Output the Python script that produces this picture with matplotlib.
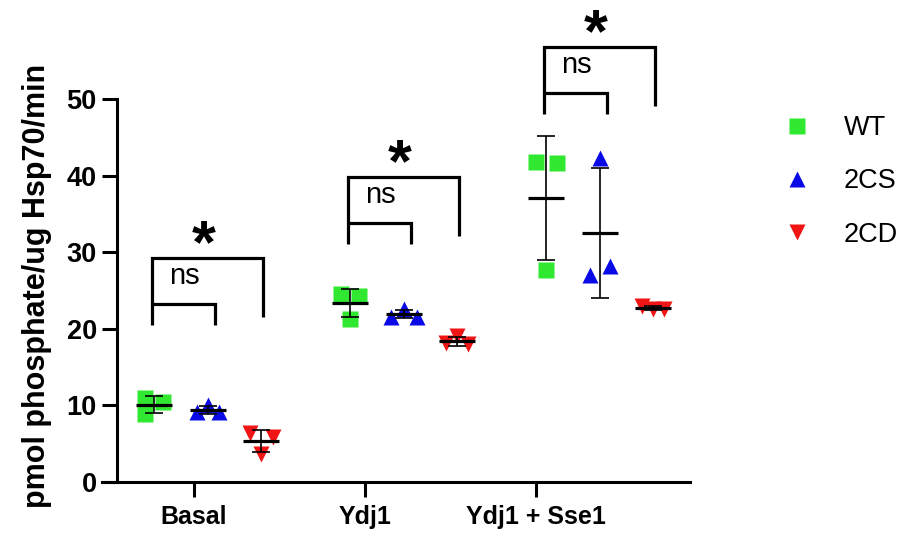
import numpy as np
import matplotlib.pyplot as plt

plt.rcParams['font.family'] = ['Liberation Sans', 'DejaVu Sans']

# Données (pmol phosphate / ug Hsp70 / min), trois répétitions par condition
conditions = ['Basal', 'Ydj1', 'Ydj1 + Sse1']
strains = ['WT', '2CS', '2CD']
wt_vals = [[11.0, 8.9, 10.4], [24.6, 24.3, 21.3], [41.8, 41.6, 27.7]]
cs_vals = [[9.1, 10.0, 9.1], [21.6, 22.6, 21.6], [27.0, 42.3, 28.2]]
cd_vals = [[6.4, 3.7, 5.9], [18.1, 19.0, 18.0], [23.0, 22.6, 22.6]]
series = [wt_vals, cs_vals, cd_vals]

# annotations : hauteur du grand crochet par condition
bracket_tops = [29.2, 39.8, 56.8]
outer_labels = ['*', '*', '*']
inner_labels = ['ns', 'ns', 'ns']

# style
colors = ['#2fe82f', '#0a0ae6', '#f01414']
markers = ['s', '^', 'v']
msizes = [11.5, 11, 11]
strain_offset = [-0.275, 0.0, 0.272]
tick_pos = [-0.071, 0.801, 1.673]
# petit décalage horizontal des points (en unités d'axe)
jitter = [
    [[-0.046, -0.046, 0.046], [-0.046, 0.046, 0.0], [-0.05, 0.056, 0.0]],
    [[-0.056, 0.0, 0.056], [-0.066, 0.0, 0.066], [-0.05, 0.0, 0.05]],
    [[-0.056, 0.0, 0.06], [-0.056, 0.0, 0.056], [-0.056, 0.0, 0.056]],
]

W, H = 905, 539
fig = plt.figure(figsize=(W / 100, H / 100), dpi=100)
ax = fig.add_axes([102 / W, (H - 482) / H, (690 - 102) / W, (482 - 99) / H])

for s, vals in enumerate(series):
    for g, reps in enumerate(vals):
        xc = g + strain_offset[s]
        xs = [xc + j for j in jitter[s][g]]
        ax.plot(xs, reps, linestyle='none', marker=markers[s], ms=msizes[s],
                color=colors[s], mec='none', zorder=2, clip_on=False)
        m = np.mean(reps)
        sd = np.std(reps, ddof=1)
        ax.hlines(m, xc - 0.092, xc + 0.092, color='black', lw=2.3, zorder=4)
        ax.vlines(xc, m - sd, m + sd, color='black', lw=1.2, zorder=4)
        ax.hlines([m - sd, m + sd], xc - 0.046, xc + 0.046, color='black', lw=1.2, zorder=4)

# crochets de significativité
for g, top in enumerate(bracket_tops):
    xl = g - 0.285
    xi = g + 0.035
    xr = g + 0.28
    inner_top = top - 6.0
    inner_bot = inner_top - 2.7
    kw = dict(color='black', lw=2.3, clip_on=False, solid_capstyle='butt',
              solid_joinstyle='miter')
    ax.plot([xl, xl, xr, xr], [inner_bot, top, top, top - 7.7], **kw)
    ax.plot([xl, xi, xi], [inner_top, inner_top, inner_bot], **kw)
    ax.annotate(outer_labels[g], xy=(g - 0.02, top + 3.3), xytext=(0, -21),
                textcoords='offset points', ha='center', va='baseline',
                fontsize=44, fontweight='bold', annotation_clip=False)
    ax.annotate(inner_labels[g], xy=(xl + 0.163, top - 2.3), xytext=(0, -5.8),
                textcoords='offset points', ha='center', va='baseline',
                fontsize=21, annotation_clip=False)

ax.set_xlim(-0.54, 2.46)
ax.set_ylim(0, 50)
ax.set_yticks([0, 10, 20, 30, 40, 50])
ax.set_xticks(tick_pos)
ax.set_xticklabels(conditions)

for side in ['top', 'right']:
    ax.spines[side].set_visible(False)
ax.spines['left'].set_position(('data', -0.464))
ax.spines['left'].set_linewidth(2.2)
ax.spines['bottom'].set_linewidth(2.2)
ax.tick_params(axis='both', width=2.2, length=10.5, labelsize=18)
ax.tick_params(axis='y', pad=4, labelsize=19.5)
ax.tick_params(axis='x', pad=6)
for lab in ax.get_xticklabels() + ax.get_yticklabels():
    lab.set_fontweight('bold')

fig.text(37 / W, 1 - 286 / H, 'pmol phosphate/ug Hsp70/min', rotation=90,
         ha='center', va='center', fontsize=22, fontweight='bold')

handles = [plt.Line2D([], [], linestyle='none', marker=markers[i], ms=msizes[i],
                      color=colors[i], mec='none') for i in range(3)]
fig.legend(handles, strains, loc='upper left', bbox_to_anchor=(784.5 / W, 1 - 115 / H),
           frameon=False, fontsize=19.5, borderpad=0, borderaxespad=0,
           handlelength=0.95, handletextpad=1.25, labelspacing=1.01)

plt.savefig('out.png', dpi=100)
